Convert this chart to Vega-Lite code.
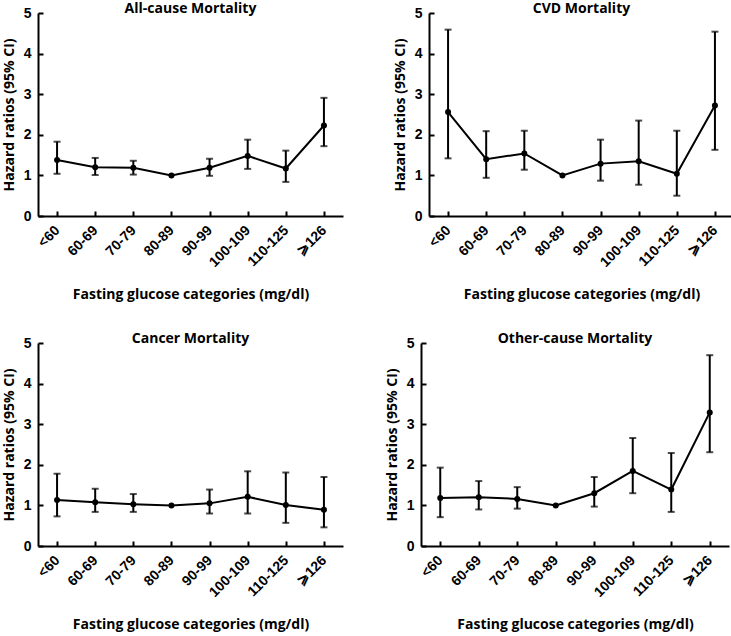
{
  "$schema": "https://vega.github.io/schema/vega-lite/v6.json",
  "padding": {"left": 2, "top": 2, "right": 0, "bottom": 0},
  "background": "white",
  "data": {"values": [
    {"panel": "All-cause Mortality", "cat": "<60", "hr": 1.38, "lo": 1.04, "hi": 1.83},
    {"panel": "All-cause Mortality", "cat": "60-69", "hr": 1.20, "lo": 1.01, "hi": 1.43},
    {"panel": "All-cause Mortality", "cat": "70-79", "hr": 1.19, "lo": 1.02, "hi": 1.36},
    {"panel": "All-cause Mortality", "cat": "80-89", "hr": 1.00, "lo": null, "hi": null},
    {"panel": "All-cause Mortality", "cat": "90-99", "hr": 1.19, "lo": 0.99, "hi": 1.41},
    {"panel": "All-cause Mortality", "cat": "100-109", "hr": 1.48, "lo": 1.16, "hi": 1.88},
    {"panel": "All-cause Mortality", "cat": "110-125", "hr": 1.17, "lo": 0.84, "hi": 1.61},
    {"panel": "All-cause Mortality", "cat": "⩾126", "hr": 2.23, "lo": 1.72, "hi": 2.91},
    {"panel": "CVD Mortality", "cat": "<60", "hr": 2.56, "lo": 1.42, "hi": 4.59},
    {"panel": "CVD Mortality", "cat": "60-69", "hr": 1.40, "lo": 0.94, "hi": 2.09},
    {"panel": "CVD Mortality", "cat": "70-79", "hr": 1.54, "lo": 1.14, "hi": 2.10},
    {"panel": "CVD Mortality", "cat": "80-89", "hr": 1.00, "lo": null, "hi": null},
    {"panel": "CVD Mortality", "cat": "90-99", "hr": 1.29, "lo": 0.87, "hi": 1.88},
    {"panel": "CVD Mortality", "cat": "100-109", "hr": 1.35, "lo": 0.77, "hi": 2.35},
    {"panel": "CVD Mortality", "cat": "110-125", "hr": 1.04, "lo": 0.50, "hi": 2.10},
    {"panel": "CVD Mortality", "cat": "⩾126", "hr": 2.72, "lo": 1.63, "hi": 4.54},
    {"panel": "Cancer Mortality", "cat": "<60", "hr": 1.13, "lo": 0.73, "hi": 1.78},
    {"panel": "Cancer Mortality", "cat": "60-69", "hr": 1.08, "lo": 0.84, "hi": 1.41},
    {"panel": "Cancer Mortality", "cat": "70-79", "hr": 1.03, "lo": 0.84, "hi": 1.28},
    {"panel": "Cancer Mortality", "cat": "80-89", "hr": 1.00, "lo": null, "hi": null},
    {"panel": "Cancer Mortality", "cat": "90-99", "hr": 1.05, "lo": 0.80, "hi": 1.39},
    {"panel": "Cancer Mortality", "cat": "100-109", "hr": 1.21, "lo": 0.80, "hi": 1.84},
    {"panel": "Cancer Mortality", "cat": "110-125", "hr": 1.01, "lo": 0.57, "hi": 1.81},
    {"panel": "Cancer Mortality", "cat": "⩾126", "hr": 0.89, "lo": 0.46, "hi": 1.70},
    {"panel": "Other-cause Mortality", "cat": "<60", "hr": 1.18, "lo": 0.71, "hi": 1.93},
    {"panel": "Other-cause Mortality", "cat": "60-69", "hr": 1.20, "lo": 0.90, "hi": 1.60},
    {"panel": "Other-cause Mortality", "cat": "70-79", "hr": 1.16, "lo": 0.92, "hi": 1.45},
    {"panel": "Other-cause Mortality", "cat": "80-89", "hr": 1.00, "lo": null, "hi": null},
    {"panel": "Other-cause Mortality", "cat": "90-99", "hr": 1.30, "lo": 0.97, "hi": 1.70},
    {"panel": "Other-cause Mortality", "cat": "100-109", "hr": 1.85, "lo": 1.30, "hi": 2.66},
    {"panel": "Other-cause Mortality", "cat": "110-125", "hr": 1.39, "lo": 0.84, "hi": 2.29},
    {"panel": "Other-cause Mortality", "cat": "⩾126", "hr": 3.29, "lo": 2.31, "hi": 4.70}
  ]},
  "vconcat": [
    {
      "spacing": 50,
      "hconcat": [
        {
          "width": 305, "height": 203,
          "title": "All-cause Mortality",
          "transform": [{"filter": "datum.panel == 'All-cause Mortality'"}],
          "encoding": {"x": {"field": "cat", "type": "ordinal", "sort": ["<60","60-69","70-79","80-89","90-99","100-109","110-125","⩾126"], "scale": {"type": "point", "padding": 0.5}, "axis": {"labelAngle": -45, "labelAlign": "right", "labelBaseline": "middle", "labelFontSize": 14}, "title": "Fasting glucose categories (mg/dl)"}},
          "layer": [
            {"mark": {"type": "rule", "color": "black", "strokeWidth": 2}, "encoding": {"y": {"field": "lo", "type": "quantitative", "scale": {"domain": [0, 5], "nice": false}, "axis": {"values": [0,1,2,3,4,5]}, "title": "Hazard ratios (95% CI)"}, "y2": {"field": "hi"}}},
            {"mark": {"type": "tick", "color": "black", "thickness": 2, "size": 7}, "encoding": {"y": {"field": "lo", "type": "quantitative"}}},
            {"mark": {"type": "tick", "color": "black", "thickness": 2, "size": 7}, "encoding": {"y": {"field": "hi", "type": "quantitative"}}},
            {"mark": {"type": "line", "color": "black", "strokeWidth": 2}, "encoding": {"y": {"field": "hr", "type": "quantitative"}}},
            {"mark": {"type": "circle", "color": "black", "size": 36, "opacity": 1}, "encoding": {"y": {"field": "hr", "type": "quantitative"}}}
          ]
        },
        {
          "width": 305, "height": 203,
          "title": "CVD Mortality",
          "transform": [{"filter": "datum.panel == 'CVD Mortality'"}],
          "encoding": {"x": {"field": "cat", "type": "ordinal", "sort": ["<60","60-69","70-79","80-89","90-99","100-109","110-125","⩾126"], "scale": {"type": "point", "padding": 0.5}, "axis": {"labelAngle": -45, "labelAlign": "right", "labelBaseline": "middle", "labelFontSize": 14}, "title": "Fasting glucose categories (mg/dl)"}},
          "layer": [
            {"mark": {"type": "rule", "color": "black", "strokeWidth": 2}, "encoding": {"y": {"field": "lo", "type": "quantitative", "scale": {"domain": [0, 5], "nice": false}, "axis": {"values": [0,1,2,3,4,5]}, "title": "Hazard ratios (95% CI)"}, "y2": {"field": "hi"}}},
            {"mark": {"type": "tick", "color": "black", "thickness": 2, "size": 7}, "encoding": {"y": {"field": "lo", "type": "quantitative"}}},
            {"mark": {"type": "tick", "color": "black", "thickness": 2, "size": 7}, "encoding": {"y": {"field": "hi", "type": "quantitative"}}},
            {"mark": {"type": "line", "color": "black", "strokeWidth": 2}, "encoding": {"y": {"field": "hr", "type": "quantitative"}}},
            {"mark": {"type": "circle", "color": "black", "size": 36, "opacity": 1}, "encoding": {"y": {"field": "hr", "type": "quantitative"}}}
          ]
        }
      ]
    },
    {
      "spacing": 42,
      "hconcat": [
        {
          "width": 305, "height": 203,
          "title": "Cancer Mortality",
          "transform": [{"filter": "datum.panel == 'Cancer Mortality'"}],
          "encoding": {"x": {"field": "cat", "type": "ordinal", "sort": ["<60","60-69","70-79","80-89","90-99","100-109","110-125","⩾126"], "scale": {"type": "point", "padding": 0.5}, "axis": {"labelAngle": -45, "labelAlign": "right", "labelBaseline": "middle", "labelFontSize": 14}, "title": "Fasting glucose categories (mg/dl)"}},
          "layer": [
            {"mark": {"type": "rule", "color": "black", "strokeWidth": 2}, "encoding": {"y": {"field": "lo", "type": "quantitative", "scale": {"domain": [0, 5], "nice": false}, "axis": {"values": [0,1,2,3,4,5]}, "title": "Hazard ratios (95% CI)"}, "y2": {"field": "hi"}}},
            {"mark": {"type": "tick", "color": "black", "thickness": 2, "size": 7}, "encoding": {"y": {"field": "lo", "type": "quantitative"}}},
            {"mark": {"type": "tick", "color": "black", "thickness": 2, "size": 7}, "encoding": {"y": {"field": "hi", "type": "quantitative"}}},
            {"mark": {"type": "line", "color": "black", "strokeWidth": 2}, "encoding": {"y": {"field": "hr", "type": "quantitative"}}},
            {"mark": {"type": "circle", "color": "black", "size": 36, "opacity": 1}, "encoding": {"y": {"field": "hr", "type": "quantitative"}}}
          ]
        },
        {
          "width": 308, "height": 203,
          "title": "Other-cause Mortality",
          "transform": [{"filter": "datum.panel == 'Other-cause Mortality'"}],
          "encoding": {"x": {"field": "cat", "type": "ordinal", "sort": ["<60","60-69","70-79","80-89","90-99","100-109","110-125","⩾126"], "scale": {"type": "point", "padding": 0.5}, "axis": {"labelAngle": -45, "labelAlign": "right", "labelBaseline": "middle", "labelFontSize": 14}, "title": "Fasting glucose categories (mg/dl)"}},
          "layer": [
            {"mark": {"type": "rule", "color": "black", "strokeWidth": 2}, "encoding": {"y": {"field": "lo", "type": "quantitative", "scale": {"domain": [0, 5], "nice": false}, "axis": {"values": [0,1,2,3,4,5]}, "title": "Hazard ratios (95% CI)"}, "y2": {"field": "hi"}}},
            {"mark": {"type": "tick", "color": "black", "thickness": 2, "size": 7}, "encoding": {"y": {"field": "lo", "type": "quantitative"}}},
            {"mark": {"type": "tick", "color": "black", "thickness": 2, "size": 7}, "encoding": {"y": {"field": "hi", "type": "quantitative"}}},
            {"mark": {"type": "line", "color": "black", "strokeWidth": 2}, "encoding": {"y": {"field": "hr", "type": "quantitative"}}},
            {"mark": {"type": "circle", "color": "black", "size": 36, "opacity": 1}, "encoding": {"y": {"field": "hr", "type": "quantitative"}}}
          ]
        }
      ]
    }
  ],
  "spacing": 30,
  "config": {
    "view": {"stroke": null},
    "font": "Liberation Sans",
    "axis": {
      "grid": false,
      "domainColor": "black", "domainWidth": 2,
      "tickColor": "black", "tickWidth": 2, "tickSize": -5,
      "labelColor": "black", "labelFont": "Liberation Sans", "labelFontWeight": "bold", "labelFontSize": 14,
      "titleColor": "black", "titleFont": "Open Sans", "titleFontWeight": "bold", "titleFontSize": 14
    },
    "axisY": {"labelPadding": 12, "titlePadding": 7},
    "axisX": {"labelPadding": 17, "titlePadding": 18},
    "title": {"font": "Open Sans", "fontWeight": "bold", "fontSize": 14, "color": "black", "anchor": "middle", "offset": -10}
  }
}
